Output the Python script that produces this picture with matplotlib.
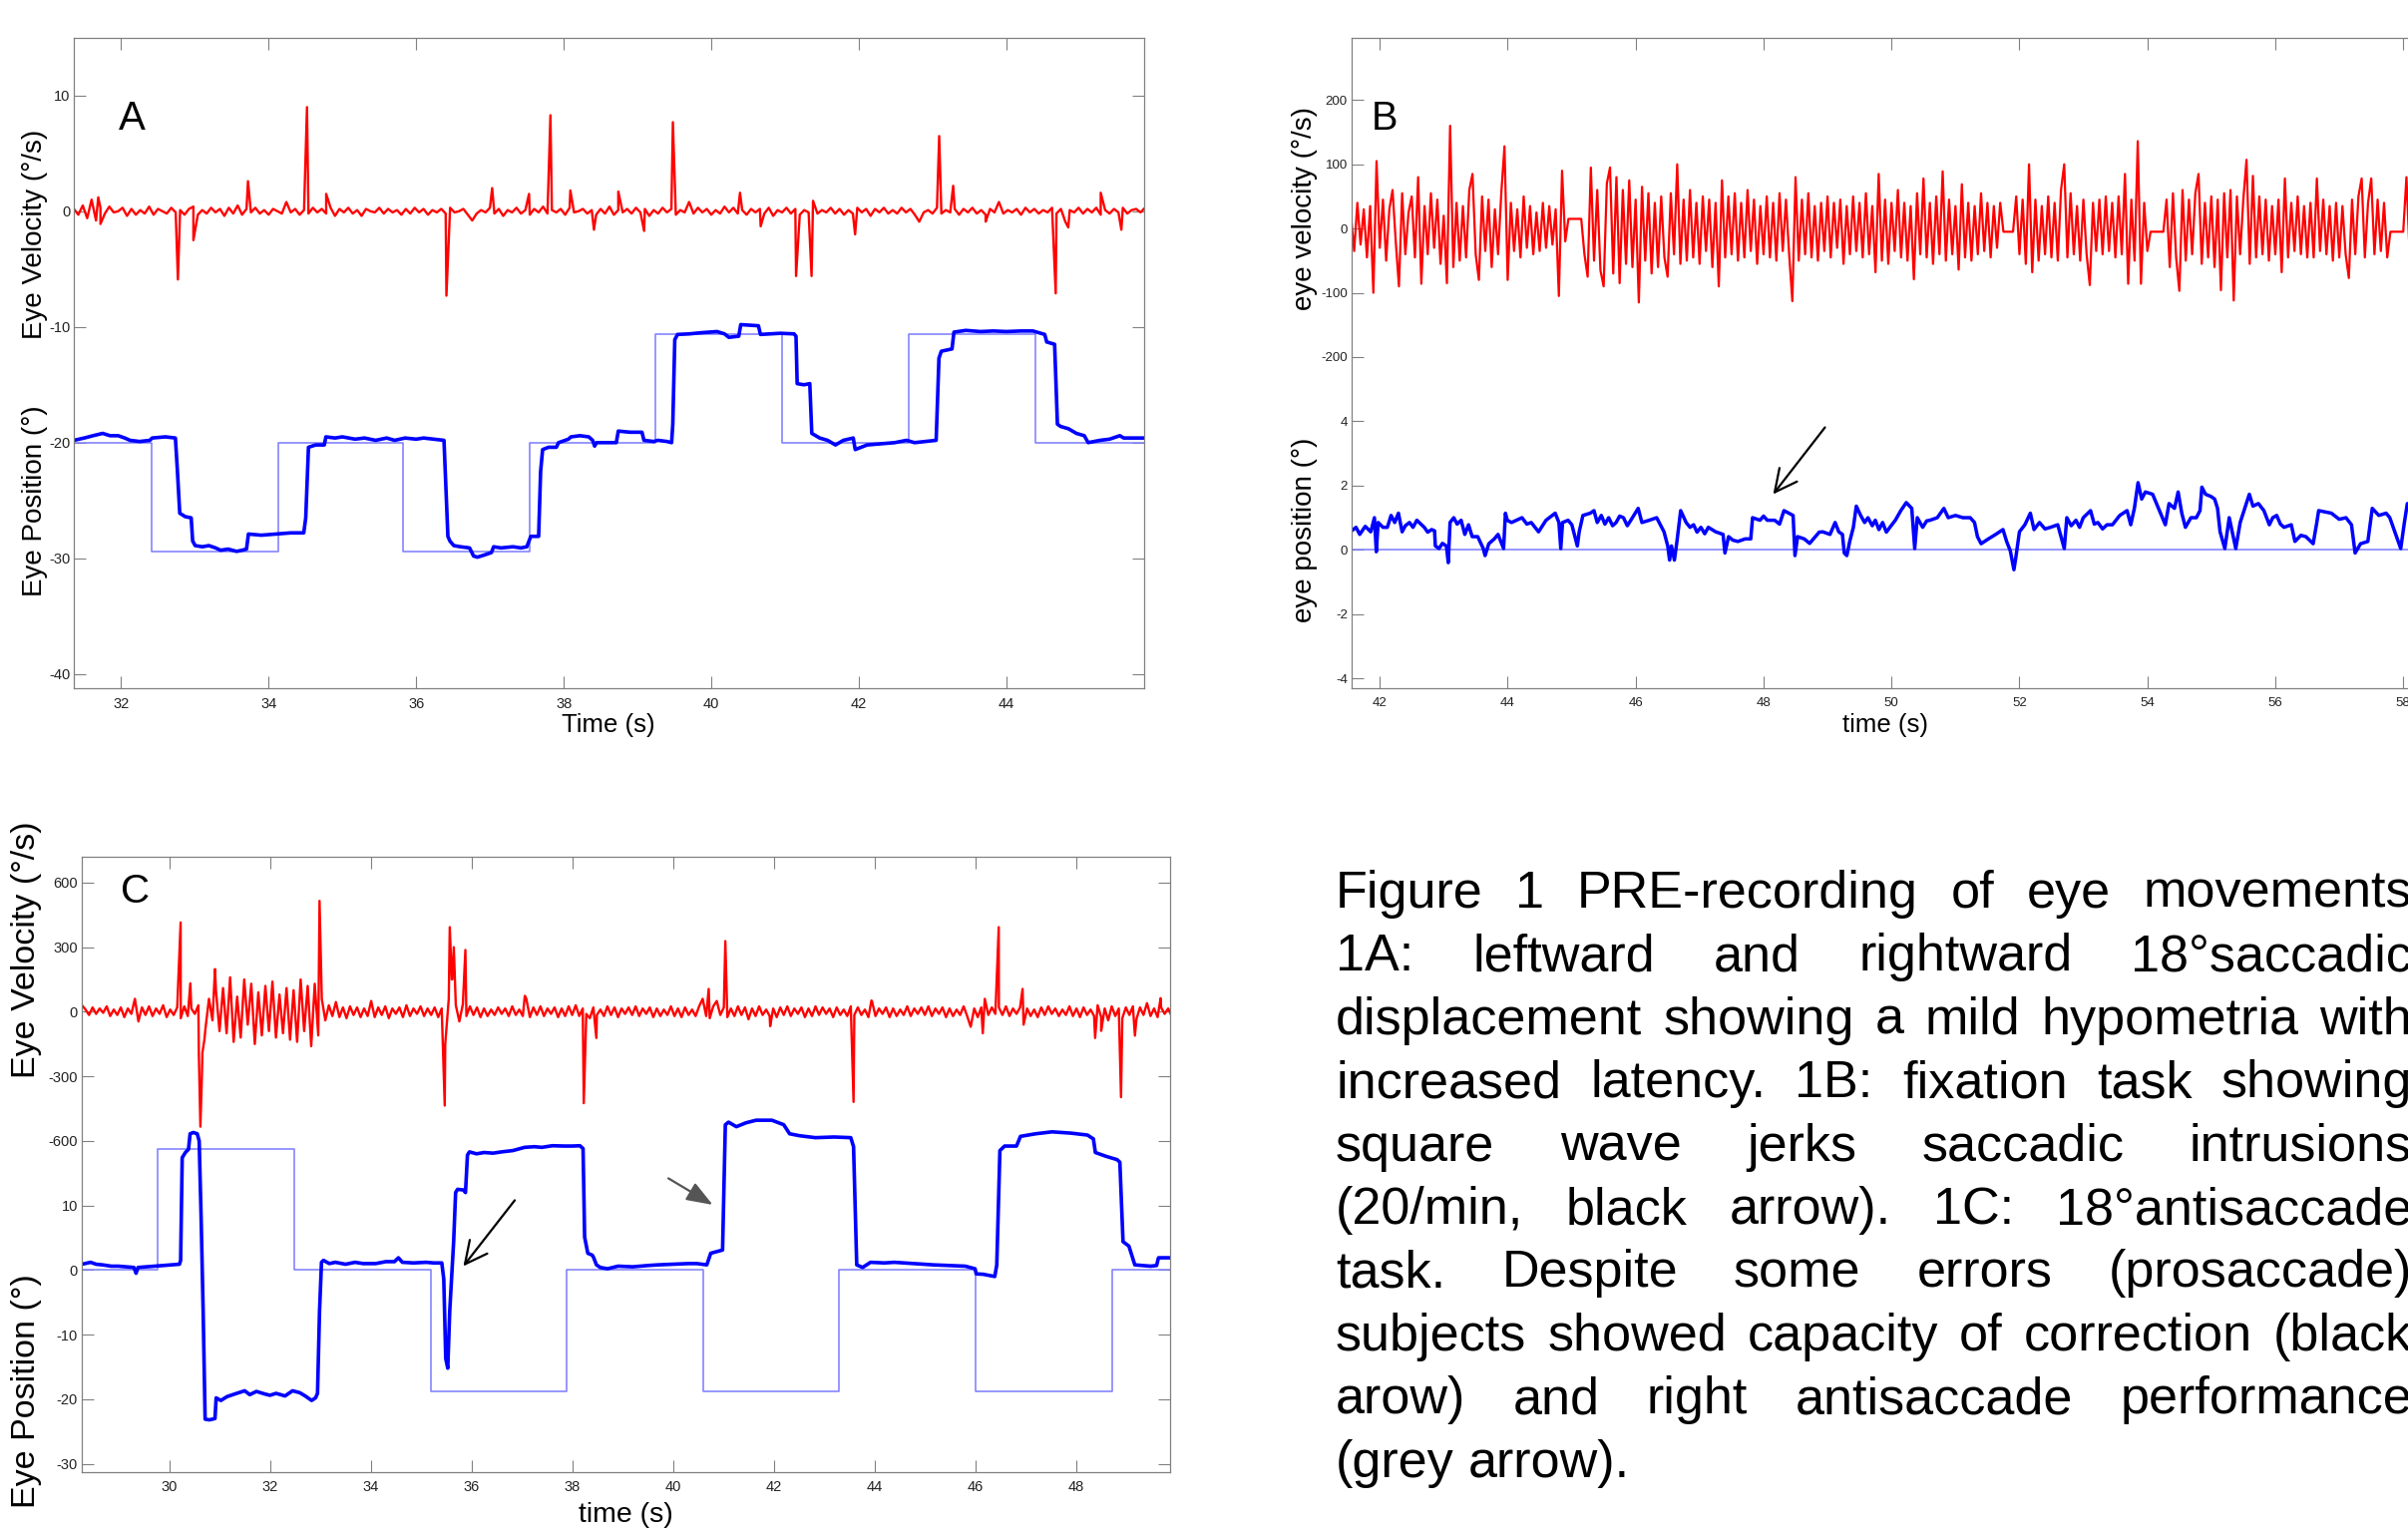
import numpy as np
import matplotlib
matplotlib.use('Agg')
import matplotlib.pyplot as plt

plt.rcParams['font.family'] = ['Liberation Sans', 'DejaVu Sans']
plt.rcParams['axes.unicode_minus'] = False

W, H = 2414, 1534
RED, BLUE, TGT, GREY = '#ff0000', '#0000ff', '#7b7bff', '#808080'

# ---------------- panel A : saccades (deg, deg/s) ----------------
a_vel_t0, a_vel_dt = 31.36, 0.06
a_vel_noise = [  # tenths of deg/s
    2, -3, 5, -6, 10, -8, 3, -2, 4, -1, 0, 3, -4, 2, -3, 1, -2, 4, -3, 2,
    0, -2, 3, -1, 1, -3, 2, 4, -3, 1, -2, 3, -1, 2, -4, 3, -2, 5, -3, 2,
    -1, 3, -2, 1, -3, 2, 0, -2, 8, -1, 2, -3, 1, -2, 3, -1, 2, -2, 3, -4,
    2, -1, 3, -2, 1, -4, 2, 0, -1, 3, -2, 2, -1, 1, -3, 2, -2, 3, -1, 2,
    -3, 1, -1, 2, -2, 3, -1, 0, 2, -3, -8, -2, 1, -1, 3, -2, 2, -4, 1, -1,
    3, -2, 1, -3, 2, -1, 4, -2, 1, -1, 2, -3, 3, -1, 0, 2, -2, 1, -3, 2,
    -2, 4, -3, 1, -1, 2, -2, 3, -1, 2, -4, 1, -2, 3, -1, 2, -3, 1, -1, 8,
    -2, 3, -1, 2, -3, 1, -2, 4, -1, 3, -2, 1, -3, 2, -1, 2, -2, 3, -4, 1,
    -1, 3, -2, 2, -3, 1, -1, 9, -2, 1, -1, 3, -2, 2, -3, 1, -2, 3, -1, 2,
    -4, 2, -1, 3, -2, 1, -2, 3, -1, 2, -3, -9, -1, 1, -2, 3, -2, 1, -1, 2,
    -3, 2, -1, 3, -2, 1, -3, 2, -1, 8, -2, 1, -1, 2, -3, 3, -1, 2, -2, 1,
    -1, 3, -2, 2, -9, 1, -1, 3, -2, 2, -1, 3, -3, 1, -2, 2, -1, 3, -2, 1,
    2, -1, 3]
a_spike_t = [31.69, 31.72, 32.77, 32.98, 33.72, 34.52, 34.78, 36.41, 37.03, 37.53,
             37.82, 38.09, 38.41, 38.74, 39.09, 39.48, 40.39, 40.67, 41.15, 41.36,
             41.95, 43.09, 43.28, 43.72, 44.67, 44.84, 45.28, 45.56]
a_spike_v = [1.2, -1.1, -5.9, -2.5, 2.6, 9.0, 1.5, -7.3, 2.0, 1.5,
             8.3, 1.8, -1.6, 1.7, -1.7, 7.7, 1.6, -1.3, -5.6, -5.6,
             -2.0, 6.5, 2.2, -0.9, -7.1, -1.4, 1.6, -1.6]
a_pos_t = [31.36, 31.5, 31.62, 31.75, 31.85, 31.96, 32.05, 32.12, 32.25, 32.39, 32.42, 32.6,
           32.736, 32.763, 32.795, 32.87, 32.95, 32.97, 33.004, 33.1, 33.19, 33.28, 33.35,
           33.45, 33.566, 33.64, 33.7, 33.726, 33.9, 34.1, 34.3, 34.476, 34.503, 34.54,
           34.637, 34.755, 34.776, 34.9, 35.0, 35.172, 35.3, 35.45, 35.6, 35.707, 35.85,
           36.0, 36.1, 36.243, 36.377, 36.43, 36.457, 36.51, 36.6, 36.724, 36.778, 36.83,
           36.93, 37.02, 37.05, 37.15, 37.313, 37.42, 37.5, 37.554, 37.66, 37.687, 37.714,
           37.794, 37.9, 37.93, 38.064, 38.098, 38.22, 38.34, 38.392, 38.419, 38.445, 38.6,
           38.713, 38.74, 38.9, 39.061, 39.088, 39.222, 39.275, 39.4, 39.463, 39.479,
           39.506, 39.543, 39.704, 39.864, 40.078, 40.18, 40.239, 40.373, 40.4, 40.52,
           40.64, 40.667, 40.8, 40.935, 41.122, 41.149, 41.165, 41.256, 41.336, 41.363,
           41.39, 41.47, 41.577, 41.684, 41.791, 41.925, 41.952, 42.113, 42.3, 42.487,
           42.648, 42.755, 42.9, 43.049, 43.087, 43.119, 43.264, 43.29, 43.451, 43.65,
           43.826, 44.0, 44.2, 44.361, 44.521, 44.548, 44.655, 44.693, 44.736, 44.843,
           44.95, 45.057, 45.11, 45.271, 45.4, 45.539, 45.592, 45.7, 45.881]
a_pos_v = [-19.8, -19.6, -19.4, -19.2, -19.4, -19.4, -19.6, -19.8, -19.9, -19.8, -19.6, -19.5,
           -19.6, -22.4, -26.1, -26.4, -26.5, -28.5, -28.9, -29.0, -28.9, -29.1, -29.3,
           -29.2, -29.4, -29.3, -29.2, -27.9, -28.0, -27.9, -27.8, -27.8, -26.5, -20.4,
           -20.2, -20.2, -19.5, -19.6, -19.5, -19.7, -19.6, -19.8, -19.6, -19.8, -19.6,
           -19.7, -19.6, -19.7, -19.8, -28.1, -28.5, -28.9, -29.0, -29.1, -29.8, -29.9,
           -29.7, -29.5, -29.0, -29.1, -29.0, -29.1, -29.0, -28.1, -28.1, -22.5, -20.6,
           -20.4, -20.4, -20.0, -19.7, -19.5, -19.4, -19.5, -19.8, -20.3, -20.0, -20.0,
           -20.0, -19.0, -19.1, -19.1, -19.8, -19.9, -19.8, -19.9, -20.0, -18.4,
           -11.1, -10.65, -10.6, -10.5, -10.4, -10.6, -10.9, -10.8, -9.8, -9.85,
           -9.9, -10.65, -10.6, -10.55, -10.6, -10.8, -14.9, -15.0, -14.9, -19.2,
           -19.3, -19.6, -19.8, -20.2, -19.8, -19.6, -20.6, -20.2, -20.1, -20.0,
           -19.8, -20.0, -19.9, -19.8, -12.7, -12.1, -11.9, -10.45, -10.3, -10.4,
           -10.35, -10.4, -10.35, -10.35, -10.65, -11.3, -11.5, -18.4, -18.6, -18.8,
           -19.2, -19.4, -20.0, -19.8, -19.7, -19.4, -19.6, -19.6, -19.6]
a_tgt_t = [31.36, 32.415, 34.128, 35.825, 37.538, 39.249, 40.962, 42.675, 44.388, 45.88]
a_tgt_v = [-20, -29.4, -20, -29.4, -20, -10.6, -20, -10.6, -20, -20]

# ---------------- panel B : fixation ----------------
b_vel_t0, b_vel_dt = 41.55, 0.05
b_vel = [  # deg/s
    20, -35, 40, -25, 30, -45, 35, -100, 105, -30, 45, -50, 30, 60, -20, -90, 55, -40, 25, 50,
    -45, 80, -86, 35, -40, 55, -30, 45, -55, 20, -85, 160, -60, 40, -50, 35, -45, 60, 85, -40,
    -80, 50, -35, 45, -60, 30, -40, 55, 128, -80, 40, -35, 30, -45, 50, -30, 35, -40, 25, -35,
    40, -30, 35, -25, 30, -105, 90, -20, 15, 15, 15, 15, 15, -40, -75, 95, -50, 60, -65, -90,
    70, 95, -70, 80, -85, 60, -55, 75, -60, 45, -115, 65, -50, 55, -70, 40, -60, 50, -45, -75,
    55, -40, 100, -55, 45, -50, 60, -45, 40, -55, 50, -35, 45, -60, 40, -90, 75, -45, 50, -40,
    55, -50, 40, -45, 60, -35, 45, -55, 35, -40, 50, -45, 40, -50, 55, -35, 45, -40, -113, 80,
    -50, 45, -40, 55, -45, 35, -50, 40, -35, 50, -45, 40, -30, 45, -55, 35, -40, 50, -35, 40,
    -45, 55, -40, 35, -68, 85, -50, 45, -55, 40, -35, 60, -45, 40, -50, 35, -79, 55, -40, 78,
    -45, 40, -55, 50, -40, 89, -50, 45, -40, 35, -64, 69, -45, 40, -50, 35, -40, 55, -35, 40,
    -45, 35, -30, 40, -5, -5, -5, -5, 50, -40, 45, -55, 100, -68, 45, -50, 35, -40, 50, -45,
    40, -50, 60, 100, -45, 55, -40, 35, -50, 45, -40, -88, 40, -35, 45, -40, 50, -35, 40, -45,
    50, -40, 85, -86, 45, -50, 136, -86, 40, -35, -5, -5, -5, -5, -5, 45, -60, 55, -45, -97,
    60, -50, 45, -40, 55, 85, -55, 40, -45, 50, -60, 45, -96, 55, -45, 60, -112, 50, -40, 45,
    107, -55, 82, -45, 50, -40, 45, -50, 35, -40, 45, -68, 78, -45, 40, -35, 50, -40, 35, -45,
    40, -45, 78, -35, 45, -40, 35, -50, 40, -45, 35, -40, -77, 45, -40, 50, 78, -45, 40, 78,
    -40, 45, -35, 40, -45, -5, -5, -5, -5, -5, 80, -40, 55, -45, 40, -50, 45, -35, 40, -45]
b_pos_t = [41.56, 41.629, 41.687, 41.773, 41.86, 41.917, 41.946, 41.975, 42.05, 42.119, 42.177,
           42.234, 42.292, 42.35, 42.4, 42.465, 42.52, 42.58, 42.696, 42.75, 42.811, 42.857,
           42.869, 42.926, 42.98, 43.042, 43.071, 43.099, 43.157, 43.21, 43.272, 43.33, 43.388,
           43.445, 43.532, 43.57, 43.618, 43.647, 43.705, 43.791, 43.849, 43.936, 43.965,
           43.993, 44.06, 44.137, 44.224, 44.3, 44.368, 44.483, 44.599, 44.743, 44.801, 44.83,
           44.858, 44.945, 45.003, 45.089, 45.118, 45.176, 45.291, 45.349, 45.4, 45.464, 45.52,
           45.579, 45.64, 45.695, 45.75, 45.81, 45.87, 45.925, 46.04, 46.098, 46.213, 46.329,
           46.444, 46.502, 46.531, 46.56, 46.606, 46.646, 46.704, 46.79, 46.85, 46.906, 46.96,
           47.021, 47.08, 47.136, 47.252, 47.367, 47.396, 47.453, 47.52, 47.598, 47.713, 47.8,
           47.828, 47.944, 48.0, 48.059, 48.174, 48.25, 48.319, 48.462, 48.491, 48.532, 48.636,
           48.72, 48.809, 48.87, 48.924, 49.039, 49.119, 49.176, 49.233, 49.262, 49.302, 49.347,
           49.404, 49.45, 49.518, 49.58, 49.632, 49.7, 49.747, 49.804, 49.861, 49.92, 49.975,
           50.06, 50.146, 50.231, 50.317, 50.363, 50.403, 50.488, 50.55, 50.602, 50.716, 50.819,
           50.887, 51.001, 51.116, 51.23, 51.298, 51.344, 51.401, 51.515, 51.629, 51.743, 51.8,
           51.857, 51.914, 51.943, 52.0, 52.085, 52.171, 52.228, 52.313, 52.4, 52.485, 52.599,
           52.701, 52.741, 52.81, 52.884, 52.94, 52.998, 53.112, 53.17, 53.226, 53.3, 53.369,
           53.454, 53.568, 53.683, 53.74, 53.797, 53.854, 53.911, 53.968, 54.082, 54.281,
           54.339, 54.424, 54.481, 54.538, 54.595, 54.681, 54.766, 54.823, 54.852, 54.909,
           54.995, 55.052, 55.097, 55.137, 55.211, 55.28, 55.382, 55.451, 55.594, 55.651,
           55.736, 55.822, 55.907, 55.96, 56.022, 56.08, 56.136, 56.25, 56.307, 56.4, 56.478,
           56.592, 56.649, 56.678, 56.877, 57.0, 57.105, 57.191, 57.248, 57.333, 57.447,
           57.516, 57.619, 57.733, 57.79, 57.961, 58.018, 58.064, 58.2, 58.5]
b_pos_v = [0.59, 0.70, 0.48, 0.73, 0.56, 1.00, -0.06, 0.85, 0.70, 0.70, 1.07,
           0.85, 1.14, 0.56, 0.75, 0.85, 0.70, 0.92, 0.70, 0.55, 0.63, 0.59,
           0.12, 0.04, 0.20, 0.12, -0.40, 0.85, 1.00, 0.80, 0.92, 0.48, 0.78,
           0.41, 0.41, 0.25, 0.04, -0.18, 0.19, 0.34, 0.48, 0.04, 1.14,
           0.92, 0.85, 0.92, 1.00, 0.80, 0.85, 0.56, 0.92, 1.14, 0.85, 0.04,
           0.85, 0.92, 0.78, 0.12, 0.56, 1.07, 1.14, 1.22, 0.85, 1.07, 0.80,
           1.00, 0.75, 0.85, 1.05, 1.00, 0.75, 0.92, 1.29, 0.85, 0.92, 1.00,
           0.56, 0.12, -0.32, 0.12, -0.32, 0.26, 1.22, 0.85, 0.70, 0.78, 0.55,
           0.70, 0.50, 0.70, 0.56, 0.48, -0.10, 0.41, 0.30, 0.26, 0.34, 0.34,
           1.00, 0.92, 1.05, 0.92, 0.92, 0.80, 1.22, 1.07, -0.18, 0.41, 0.34,
           0.20, 0.41, 0.55, 0.56, 0.48, 0.85, 0.56, 0.48, -0.10, -0.18, 0.26,
           0.70, 1.36, 1.07, 0.85, 1.00, 0.75, 0.92, 0.63, 0.85, 0.55, 0.70,
           0.92, 1.22, 1.47, 1.29, 0.04, 1.00, 0.70, 0.90, 0.92, 1.00, 1.29,
           1.00, 1.07, 1.00, 1.00, 0.85, 0.41, 0.19, 0.34, 0.48, 0.63, 0.26,
           -0.03, -0.62, -0.25, 0.56, 0.78, 1.14, 0.63, 0.85, 0.65, 0.70, 0.78,
           0.04, 1.00, 0.75, 0.92, 0.70, 1.00, 1.22, 0.80, 0.85, 0.65, 0.78,
           0.78, 1.07, 1.22, 0.78, 1.29, 2.09, 1.58, 1.80, 1.73, 0.78,
           1.44, 1.29, 1.80, 1.14, 0.70, 1.00, 1.00, 1.22, 1.95, 1.73,
           1.66, 1.58, 1.29, 0.56, 0.04, 1.00, 0.04, 0.85, 1.73, 1.36,
           1.44, 1.22, 0.78, 1.00, 1.07, 0.80, 0.70, 0.78, 0.26, 0.45, 0.41,
           0.19, 0.85, 1.22, 1.14, 0.95, 1.00, 0.78, -0.10, 0.19, 0.26,
           1.29, 1.07, 1.14, 1.00, 0.04, 0.85, 1.44, 1.20, 1.10]
b_tgt_t = [41.56, 58.5]
b_tgt_v = [0, 0]

# ---------------- panel C : antisaccades ----------------
c_vel_t0, c_vel_dt = 28.27, 0.07
c_vel_noise = [  # deg/s
    30, 10, -15, 20, -10, 15, -5, 25, -20, 10, -15, 20, -25, 15, -10, 60, -45, 20, -15, 25,
    -20, 15, -10, 30, -25, 10, -15, 20, -30, 25, -20, 15, -10, 30, -300, -80, 60, -40, 95, -90,
    110, -100, 160, -140, 70, -120, 150, -60, 130, -150, 90, -110, 120, -90, 140, -120, 80, -100, 110, -130,
    100, -140, 150, -90, 120, -160, 130, -110, 60, -40, 30, -20, 45, -25, 20, -30, 25, -15, 20, -25,
    15, -20, 50, -25, 20, -15, 25, -30, 15, -10, 20, -25, 30, -20, 15, -10, 25, -20, 15, -15,
    20, -25, 15, -150, 60, 150, 30, -45, 35, -20, 25, -15, 20, -25, 15, -20, 10, -15, 20, -10,
    15, -20, 25, -15, 10, -20, 60, -25, 20, -15, 25, -20, 15, -10, 20, -25, 15, -20, 25, -15,
    30, -20, 15, -10, -30, 20, -15, 10, -20, 25, -15, 20, -25, 15, -10, 20, -15, 25, -20, 15,
    -10, 20, -25, 15, -20, 10, -15, 25, -20, 15, -25, 20, -15, 10, -20, 25, 60, -20, -30, 25,
    50, -15, 20, -25, 15, -20, 25, -15, 20, -35, 15, -20, 25, -15, 10, -20, 15, -25, 20, -15,
    25, -20, 15, -10, 20, -25, 15, -20, 25, -15, 20, -10, 15, -25, 20, -15, 10, -20, 25, -15,
    20, -15, 10, -25, 50, -20, 15, -10, 20, -25, 15, -20, 10, -15, 25, -20, 15, -10, 20, -15,
    25, -20, 15, -10, 20, -25, 15, -20, 10, -15, 25, -20, -70, 15, -25, 20, 60, -15, 20, -10,
    20, -15, 25, -20, 15, -10, 20, -60, 15, -20, 10, -25, 20, -15, 25, -10, 15, -20, 10, -15,
    25, -20, 15, -25, 20, -15, 10, -20, 30, -25, 15, -40, 25, -20, 15, -30, 20, -15, 25, -35,
    20, -15, 40, -20, 15, -25, 20, -10, 15, -20]
c_spike_t = [30.228, 30.42, 30.59, 30.62, 30.66, 30.70, 30.91, 32.985, 35.47, 35.57, 35.61,
             35.65, 35.88, 37.06, 38.23, 38.48, 40.71, 41.04, 41.93, 43.585, 43.94, 46.15,
             46.467, 46.94, 48.38, 48.5, 48.894, 49.17, 49.68]
c_spike_v = [415, 132, -200, -534, -190, -130, 198, 515, -436, 393, 150,
             300, 287, 74, -425, -122, 106, 328, -67, -419, 52, -100,
             393, 106, -122, -89, -397, -111, 63]
c_pos_t = [28.27, 28.44, 28.55, 28.68, 28.85, 28.99, 29.15, 29.3, 29.343, 29.382, 29.55, 29.696,
           29.9, 30.05, 30.205, 30.228, 30.259, 30.322, 30.384, 30.416, 30.48, 30.557, 30.596,
           30.635, 30.675, 30.714, 30.8, 30.91, 30.933, 31.027, 31.15, 31.34, 31.5, 31.6,
           31.732, 31.9, 32.0, 32.123, 32.3, 32.45, 32.593, 32.7, 32.828, 32.906, 32.945,
           32.985, 33.024, 33.063, 33.18, 33.298, 33.5, 33.69, 33.85, 34.1, 34.3, 34.473,
           34.551, 34.629, 34.85, 35.099, 35.25, 35.412, 35.451, 35.49, 35.53, 35.569, 35.647,
           35.686, 35.725, 35.843, 35.882, 35.921, 35.96, 36.1, 36.25, 36.43, 36.6, 36.822,
           37.057, 37.25, 37.4, 37.605, 37.85, 38.0, 38.153, 38.216, 38.247, 38.31, 38.4,
           38.427, 38.482, 38.558, 38.702, 38.91, 39.2, 39.5, 39.693, 40.0, 40.3, 40.476,
           40.672, 40.75, 40.985, 41.04, 41.103, 41.259, 41.45, 41.651, 41.964, 42.199,
           42.316, 42.512, 42.826, 43.2, 43.53, 43.585, 43.648, 43.765, 43.922, 44.2, 44.392,
           44.8, 45.175, 45.5, 45.801, 45.997, 46.02, 46.154, 46.388, 46.428, 46.49, 46.584,
           46.82, 46.898, 47.2, 47.524, 47.9, 48.229, 48.346, 48.385, 48.6, 48.816, 48.871,
           48.934, 49.051, 49.168, 49.481, 49.6, 49.638, 49.873]
c_pos_v = [0.9, 1.2, 0.9, 0.8, 0.6, 0.6, 0.5, 0.4, -0.5, 0.4, 0.5, 0.6,
           0.7, 0.8, 0.9, 1.5, 17.4, 18.2, 18.7, 21.1, 21.3, 21.1, 20.0,
           8.0, -6.4, -23.1, -23.2, -23.0, -19.8, -20.2, -19.6, -19.1, -18.7, -19.3,
           -18.8, -19.2, -19.4, -19.1, -19.5, -18.7, -19.0, -19.5, -20.2, -19.8, -19.1,
           -6.4, 1.2, 1.5, 1.0, 1.2, 0.9, 1.2, 1.0, 1.0, 1.3, 1.3,
           1.9, 1.2, 1.1, 1.2, 1.1, 1.1, -1.4, -13.7, -15.2, -6.4, 4.4,
           12.0, 12.5, 12.4, 12.0, 17.8, 18.3, 18.0, 18.2, 18.1, 18.3, 18.5,
           19.0, 19.1, 19.0, 19.25, 19.2, 19.2, 19.25, 18.8, 5.1, 2.6, 2.3,
           1.9, 0.8, 0.4, 0.2, 0.6, 0.5, 0.7, 0.8, 0.9, 1.0, 1.0,
           0.8, 2.6, 3.1, 22.5, 22.9, 22.2, 22.8, 23.2, 23.2, 22.5,
           21.1, 20.8, 20.5, 20.6, 20.5, 19.1, 0.8, 0.4, 1.2, 1.1, 1.2,
           1.0, 0.8, 0.7, 0.6, 0.2, -0.6, -0.65, -1.0, 0.8, 18.5, 19.2,
           19.2, 20.7, 21.1, 21.4, 21.2, 20.9, 20.3, 18.2, 17.6, 17.1, 16.7,
           4.4, 3.7, 0.8, 0.6, 0.7, 1.9, 1.9]
c_tgt_t = [28.27, 29.774, 32.475, 35.19, 37.88, 40.60, 43.303, 46.013, 48.722, 49.87]
c_tgt_v = [0, 18.75, 0, -18.75, 0, -18.75, 0, -18.75, 0, 0]

caption = [
    "Figure 1 PRE-recording of eye movements",
    "1A: leftward and rightward 18°saccadic",
    "displacement showing a mild hypometria with",
    "increased latency. 1B: fixation task showing",
    "square wave jerks saccadic intrusions",
    "(20/min, black arrow). 1C: 18°antisaccade",
    "task. Despite some errors (prosaccade)",
    "subjects showed capacity of correction (black",
    "arow) and right antisaccade performance",
    "(grey arrow).",
]


def merged(t0, dt, noise, sp_t, sp_v, scale=1.0):
    t = np.concatenate([t0 + dt * np.arange(len(noise)), sp_t])
    v = np.concatenate([np.array(noise, float) * scale, sp_v])
    order = np.argsort(t, kind='stable')
    return t[order], v[order]


def px_axes(left, right, top, bottom):
    return fig.add_axes([left / W, 1 - bottom / H, (right - left) / W, (bottom - top) / H])


def style(ax, xlim, ylim, xticks, yticks, ylabels, size):
    ax.set_xlim(xlim)
    ax.set_ylim(ylim)
    ax.set_xticks(xticks)
    ax.set_yticks(yticks)
    if ylabels is not None:
        ax.set_yticklabels(ylabels)
    ax.tick_params(direction='in', length=8.5, width=0.8, color=GREY, top=True, right=True,
                   labelsize=size, labelcolor='#222222')
    ax.tick_params(axis='y', pad=3)
    ax.tick_params(axis='x', pad=6)
    for s in ax.spines.values():
        s.set_color(GREY)
        s.set_linewidth(0.9)


def ftext(x, y, s, **kw):
    return fig.text(x / W, 1 - y / H, s, **kw)


fig = plt.figure(figsize=(W / 100, H / 100), dpi=100)

# panel A
axA = px_axes(74.3, 1146.8, 37.8, 690.4)
tA, vA = merged(a_vel_t0, a_vel_dt, a_vel_noise, a_spike_t, a_spike_v, scale=0.1)
axA.plot(a_tgt_t, a_tgt_v, color=TGT, lw=1.1, drawstyle='steps-post')
axA.plot(a_pos_t, a_pos_v, color=BLUE, lw=2.6)
axA.plot(tA, vA, color=RED, lw=1.7)
style(axA, (31.363, 45.866), (-41.26, 15.0), range(32, 46, 2), range(-40, 11, 10), None, 10.5)
ftext(119, 130, 'A', fontsize=29, va='baseline')
ftext(35, 235, 'Eye Velocity (°/s)', fontsize=20, rotation=90, ha='center', va='center')
ftext(35, 502, 'Eye Position (°)', fontsize=20, rotation=90, ha='center', va='center')
ftext(610, 727, 'Time (s)', fontsize=18.5, ha='center', va='center')

# panel B  (one shared axis: velocity u = v/100 + 7, position u = p/2 + 2)
axB = px_axes(1355.1, 2440, 37.8, 690.4)
tB = b_vel_t0 + b_vel_dt * np.arange(len(b_vel))
axB.plot(b_tgt_t, np.array(b_tgt_v) / 2 + 2, color=TGT, lw=1.1)
axB.plot(b_pos_t, np.array(b_pos_v) / 2 + 2, color=BLUE, lw=2.5)
axB.plot(tB, np.array(b_vel) / 100 + 7, color=RED, lw=1.6)
style(axB, (41.562, 58.48), (-0.16, 9.97), range(42, 59, 2), range(10),
      ['-4', '-2', '0', '2', '4', '-200', '-100', '0', '100', '200'], 9.5)
axB.annotate('', xy=(48.15, 2.865), xytext=(48.96, 3.905),
             arrowprops=dict(arrowstyle='->,head_length=0.8,head_width=0.4', lw=1.6,
                             color='black', shrinkA=0, shrinkB=0, mutation_scale=20))
ftext(1375, 130, 'B', fontsize=28.5, va='baseline')
ftext(1308, 209, 'eye velocity (°/s)', fontsize=20, rotation=90, ha='center', va='center')
ftext(1308, 531, 'eye position (°)', fontsize=20, rotation=90, ha='center', va='center')
ftext(1890, 727, 'time (s)', fontsize=18.5, ha='center', va='center')

# panel C  (velocity u = v/300 + 7, position u = p/10 + 3)
axC = px_axes(82.2, 1173.1, 859, 1476)
tC, vC = merged(c_vel_t0, c_vel_dt, c_vel_noise, c_spike_t, c_spike_v)
axC.plot(c_tgt_t, np.array(c_tgt_v) / 10 + 3, color=TGT, lw=1.1, drawstyle='steps-post')
axC.plot(c_pos_t, np.array(c_pos_v) / 10 + 3, color=BLUE, lw=2.6)
axC.plot(tC, vC / 300 + 7, color=RED, lw=1.7)
style(axC, (28.27, 49.87), (-0.13, 9.40), range(30, 50, 2), range(10),
      ['-30', '-20', '-10', '0', '10', '-600', '-300', '0', '300', '600'], 10.5)
axC.annotate('', xy=(35.84, 3.06), xytext=(36.86, 4.08),
             arrowprops=dict(arrowstyle='->,head_length=0.8,head_width=0.4', lw=1.6,
                             color='black', shrinkA=0, shrinkB=0, mutation_scale=20))
axC.annotate('', xy=(40.79, 4.01), xytext=(39.91, 4.42),
             arrowprops=dict(arrowstyle='-|>,head_length=0.8,head_width=0.3', lw=1.6,
                             color='#555555', shrinkA=0, shrinkB=0, mutation_scale=20))
ftext(121, 905, 'C', fontsize=29, va='baseline')
ftext(27, 952, 'Eye Velocity (°/s)', fontsize=24.5, rotation=90, ha='center', va='center')
ftext(27, 1395, 'Eye Position (°)', fontsize=24.5, rotation=90, ha='center', va='center')
ftext(627, 1519, 'time (s)', fontsize=20.5, ha='center', va='center')

# justified caption
renderer = fig.canvas.get_renderer()
cap_size = 37.5
x0, x1 = 1339, 2418
for k, line in enumerate(caption):
    yb = 910 + 63.4 * k
    words = line.split()
    texts = [ftext(0, yb, w, fontsize=cap_size, va='baseline', ha='left') for w in words]
    widths = [t.get_window_extent(renderer).width for t in texts]
    if k == len(caption) - 1 or len(words) == 1:
        gap = 0.278 * cap_size * 100 / 72
    else:
        gap = (x1 - x0 - sum(widths)) / (len(words) - 1)
    x = x0
    for t, w in zip(texts, widths):
        t.set_x(x / W)
        x += w + gap

fig.savefig('out.png', dpi=100)
